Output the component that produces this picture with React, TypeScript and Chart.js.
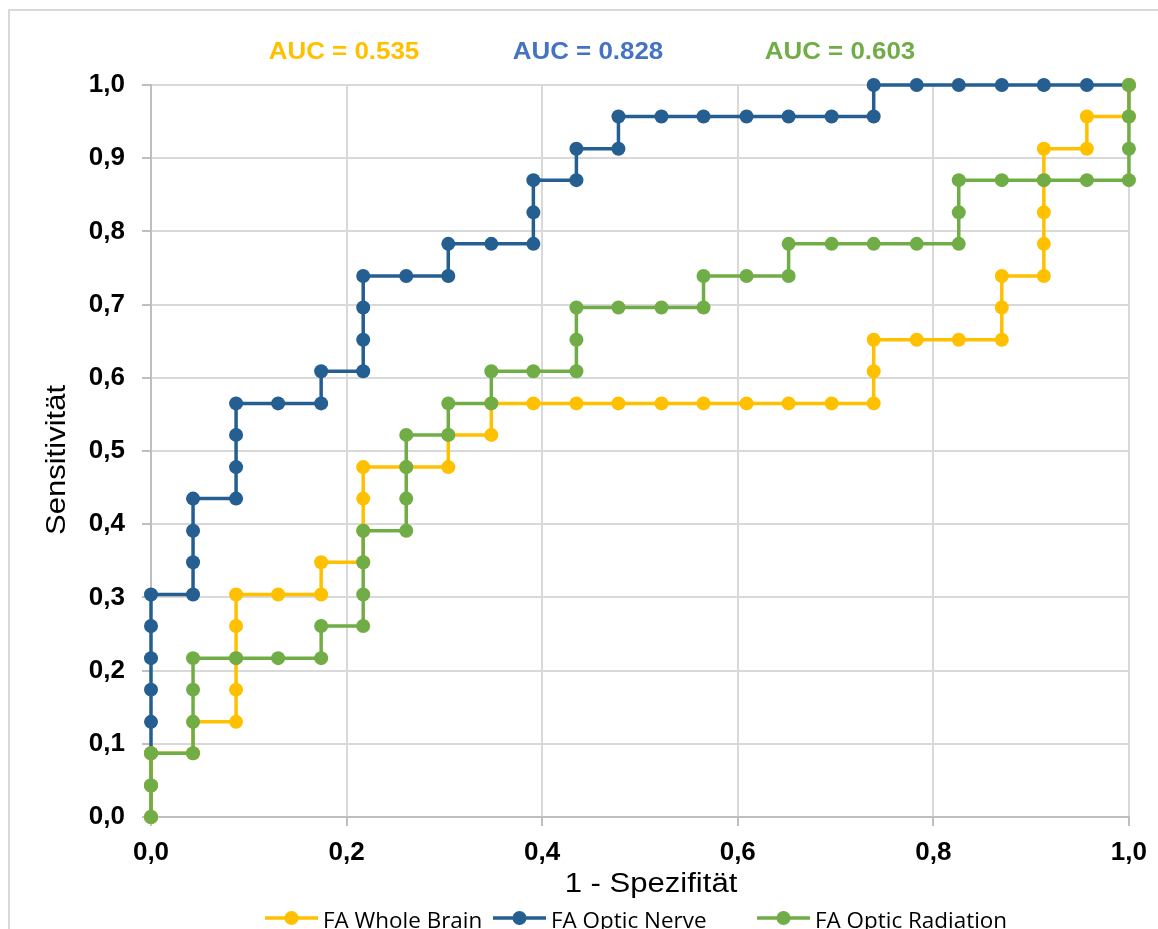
import { useEffect, useRef } from 'react';
import { Chart, registerables } from 'chart.js';

Chart.register(...registerables);

// ---------- data ----------
const SERIES_NAMES = ['FA Whole Brain', 'FA Optic Nerve', 'FA Optic Radiation'];
const SERIES_COLORS = ['#FFC000', '#255E91', '#70AD47'];
const AUC_LABELS = ['AUC = 0.535', 'AUC = 0.828', 'AUC = 0.603'];
const AUC_COLORS = ['#FFC000', '#4472C4', '#70AD47'];
const X_TICK_LABELS = ['0,0', '0,2', '0,4', '0,6', '0,8', '1,0'];
const Y_TICK_LABELS = ['0,0', '0,1', '0,2', '0,3', '0,4', '0,5', '0,6', '0,7', '0,8', '0,9', '1,0'];
const X_TITLE = '1 - Spezifität';
const Y_TITLE = 'Sensitivität';

const WHOLE_BRAIN_X = [0, 0, 0, 0.043, 0.043, 0.087, 0.087, 0.087, 0.087, 0.087, 0.130, 0.174, 0.174, 0.217, 0.217, 0.217, 0.217, 0.261, 0.304, 0.304, 0.348, 0.348, 0.391, 0.435, 0.478, 0.522, 0.565, 0.609, 0.652, 0.696, 0.739, 0.739, 0.739, 0.783, 0.826, 0.870, 0.870, 0.870, 0.913, 0.913, 0.913, 0.913, 0.913, 0.957, 0.957, 1, 1];
const WHOLE_BRAIN_Y = [0, 0.043, 0.087, 0.087, 0.130, 0.130, 0.174, 0.217, 0.261, 0.304, 0.304, 0.304, 0.348, 0.348, 0.391, 0.435, 0.478, 0.478, 0.478, 0.522, 0.522, 0.565, 0.565, 0.565, 0.565, 0.565, 0.565, 0.565, 0.565, 0.565, 0.565, 0.609, 0.652, 0.652, 0.652, 0.652, 0.696, 0.739, 0.739, 0.783, 0.826, 0.870, 0.913, 0.913, 0.957, 0.957, 1];

const OPTIC_NERVE_X = [0, 0, 0, 0, 0, 0, 0, 0, 0.043, 0.043, 0.043, 0.043, 0.087, 0.087, 0.087, 0.087, 0.130, 0.174, 0.174, 0.217, 0.217, 0.217, 0.217, 0.261, 0.304, 0.304, 0.348, 0.391, 0.391, 0.391, 0.435, 0.435, 0.478, 0.478, 0.522, 0.565, 0.609, 0.652, 0.696, 0.739, 0.739, 0.783, 0.826, 0.870, 0.913, 0.957, 1];
const OPTIC_NERVE_Y = [0, 0.043, 0.087, 0.130, 0.174, 0.217, 0.261, 0.304, 0.304, 0.348, 0.391, 0.435, 0.435, 0.478, 0.522, 0.565, 0.565, 0.565, 0.609, 0.609, 0.652, 0.696, 0.739, 0.739, 0.739, 0.783, 0.783, 0.783, 0.826, 0.870, 0.870, 0.913, 0.913, 0.957, 0.957, 0.957, 0.957, 0.957, 0.957, 0.957, 1, 1, 1, 1, 1, 1, 1];

const OPTIC_RADIATION_X = [0, 0, 0, 0.043, 0.043, 0.043, 0.043, 0.087, 0.130, 0.174, 0.174, 0.217, 0.217, 0.217, 0.217, 0.261, 0.261, 0.261, 0.261, 0.304, 0.304, 0.348, 0.348, 0.391, 0.435, 0.435, 0.435, 0.478, 0.522, 0.565, 0.565, 0.609, 0.652, 0.652, 0.696, 0.739, 0.783, 0.826, 0.826, 0.826, 0.870, 0.913, 0.957, 1, 1, 1, 1];
const OPTIC_RADIATION_Y = [0, 0.043, 0.087, 0.087, 0.130, 0.174, 0.217, 0.217, 0.217, 0.217, 0.261, 0.261, 0.304, 0.348, 0.391, 0.391, 0.435, 0.478, 0.522, 0.522, 0.565, 0.565, 0.609, 0.609, 0.609, 0.652, 0.696, 0.696, 0.696, 0.696, 0.739, 0.739, 0.739, 0.783, 0.783, 0.783, 0.783, 0.783, 0.826, 0.870, 0.870, 0.870, 0.870, 0.870, 0.913, 0.957, 1];

const SERIES_X = [WHOLE_BRAIN_X, OPTIC_NERVE_X, OPTIC_RADIATION_X];
const SERIES_Y = [WHOLE_BRAIN_Y, OPTIC_NERVE_Y, OPTIC_RADIATION_Y];
const DRAW_ORDER = [1, 2, 0]; // green on top, then yellow, blue below

const W = 1158;
const H = 929;

function stretchedText(ctx: CanvasRenderingContext2D, text: string, cx: number, cy: number, font: string, color: string, sx: number, align: CanvasTextAlign = 'center') {
  ctx.save();
  ctx.translate(cx, cy);
  ctx.scale(sx, 1);
  ctx.font = font;
  ctx.fillStyle = color;
  ctx.textAlign = align;
  ctx.textBaseline = 'middle';
  ctx.fillText(text, 0, 0);
  ctx.restore();
}

const decorPlugin = {
  id: 'decor',
  beforeDraw(chart: any) {
    const ctx = chart.ctx as CanvasRenderingContext2D;
    ctx.save();
    ctx.strokeStyle = '#D9D9D9';
    ctx.lineWidth = 2;
    ctx.beginPath();
    ctx.moveTo(9, H);
    ctx.lineTo(9, 10);
    ctx.lineTo(W, 10);
    ctx.stroke();
    ctx.restore();
  },
  afterDraw(chart: any) {
    const ctx = chart.ctx as CanvasRenderingContext2D;
    // AUC labels
    const aucX = [344, 588, 840];
    AUC_LABELS.forEach((t, i) => {
      stretchedText(ctx, t, aucX[i], 52, 'bold 24px "Liberation Sans", Arial, sans-serif', AUC_COLORS[i], 1.08);
    });
    // axis titles
    stretchedText(ctx, X_TITLE, 651, 885, '27px "Liberation Sans", Arial, sans-serif', '#000', 1.15);
    ctx.save();
    ctx.translate(58, 460);
    ctx.rotate(-Math.PI / 2);
    ctx.scale(1.15, 1);
    ctx.font = '27px "Liberation Sans", Arial, sans-serif';
    ctx.fillStyle = '#000';
    ctx.textAlign = 'center';
    ctx.textBaseline = 'middle';
    ctx.fillText(Y_TITLE, 0, 0);
    ctx.restore();
    // legend
    const legX = [265, 493, 757];
    const legY = 918;
    SERIES_NAMES.forEach((name, i) => {
      const x0 = legX[i];
      ctx.save();
      ctx.strokeStyle = SERIES_COLORS[i];
      ctx.lineWidth = 3.5;
      ctx.beginPath();
      ctx.moveTo(x0, legY);
      ctx.lineTo(x0 + 53, legY);
      ctx.stroke();
      ctx.fillStyle = SERIES_COLORS[i];
      ctx.beginPath();
      ctx.arc(x0 + 26.5, legY, 7, 0, Math.PI * 2);
      ctx.fill();
      ctx.restore();
      stretchedText(ctx, name, x0 + 58, legY + 4, '22px "Open Sans", sans-serif', '#000', 1.02, 'left');
    });
  },
};

export default function App() {
  const ref = useRef<HTMLCanvasElement>(null);
  useEffect(() => {
    const canvas = ref.current;
    if (!canvas) return;
    const datasets = SERIES_NAMES.map((name, i) => ({
      label: name,
      data: SERIES_X[i].map((x, k) => ({ x, y: SERIES_Y[i][k] })),
      showLine: true,
      borderColor: SERIES_COLORS[i],
      backgroundColor: SERIES_COLORS[i],
      borderWidth: 3.5,
      pointRadius: 7,
      pointHoverRadius: 7,
      pointBorderWidth: 0,
      pointBackgroundColor: SERIES_COLORS[i],
      order: DRAW_ORDER[i],
      clip: false as any,
    }));
    const tickFont = { family: '"Liberation Sans", Arial, sans-serif', size: 26, weight: 'bold' as const };
    const chart = new Chart(canvas, {
      type: 'scatter',
      data: { datasets },
      options: {
        responsive: false,
        animation: false,
        events: [],
        layout: { padding: { top: 85, right: 26, left: 0, bottom: 0 } },
        plugins: { legend: { display: false }, tooltip: { enabled: false }, title: { display: false } },
        scales: {
          x: {
            type: 'linear',
            min: 0,
            max: 1,
            ticks: {
              stepSize: 0.2,
              autoSkip: false,
              maxRotation: 0,
              padding: 11,
              color: '#000',
              font: tickFont,
              callback: (_v: any, i: number) => X_TICK_LABELS[i],
            },
            grid: { color: '#D9D9D9', lineWidth: 2, tickLength: 9, tickColor: '#BFBFBF' },
            border: { color: '#BFBFBF', width: 2 },
            afterFit: (s: any) => { s.height = H - 817; },
          },
          y: {
            type: 'linear',
            min: 0,
            max: 1,
            ticks: {
              stepSize: 0.1,
              autoSkip: false,
              padding: 17,
              color: '#000',
              font: tickFont,
              callback: (_v: any, i: number) => Y_TICK_LABELS[i],
            },
            grid: { color: '#D9D9D9', lineWidth: 2, tickLength: 9, tickColor: '#BFBFBF' },
            border: { color: '#BFBFBF', width: 2 },
            afterFit: (s: any) => { s.width = 151; },
          },
        },
      },
      plugins: [decorPlugin],
    });
    return () => chart.destroy();
  }, []);
  return (
    <canvas
      ref={ref}
      width={W}
      height={H}
      style={{ position: 'absolute', left: 0, top: 0, width: W, height: H, background: '#fff' }}
    />
  );
}
